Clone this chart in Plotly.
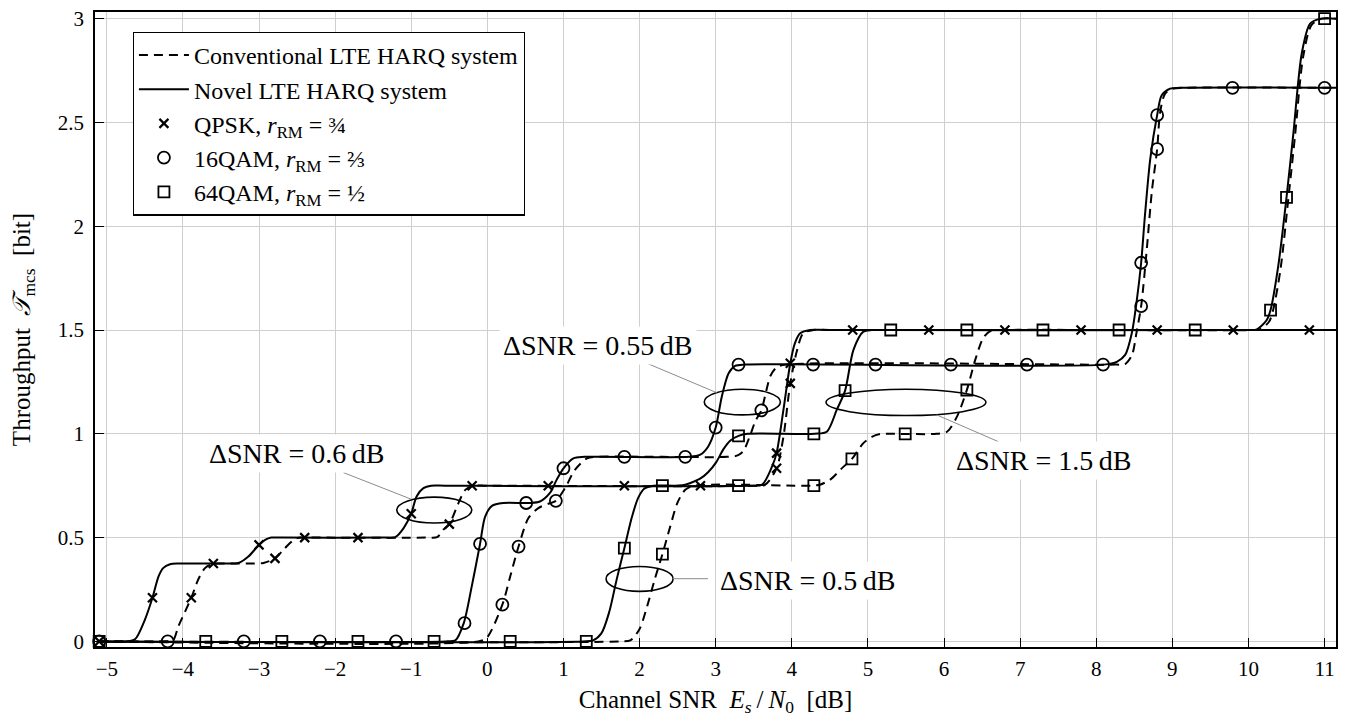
import plotly.graph_objects as go

# ---------------- data ----------------
# QPSK, r_RM = 3/4
QPSK_NOVEL_X = [-5.1, -4.75, -4.63, -4.50, -4.40, -4.32, -4.26, -4.17, -4.05, -3.45, -3.27, -3.14, -3.0, -2.92, -2.84, -2.70,
                -1.35, -1.21, -1.10, -1.0, -0.93, -0.84, -0.74, -0.55, 3.45, 3.61, 3.74, 3.80, 3.89, 3.98, 4.04, 4.11, 4.24, 4.45, 11.15]
QPSK_NOVEL_Y = [0, 0, 0.01, 0.104, 0.21, 0.313, 0.353, 0.372, 0.375, 0.375, 0.378, 0.409, 0.465, 0.489, 0.5, 0.5,
                0.5, 0.502, 0.546, 0.615, 0.698, 0.738, 0.75, 0.75, 0.75, 0.755, 0.842, 0.907, 1.115, 1.34, 1.436, 1.484, 1.5, 1.5, 1.5]
QPSK_CONV_X = [-5.1, -4.25, -4.13, -4.06, -3.89, -3.80, -3.71, -3.62, -3.50, -3.05, -2.94, -2.79, -2.66, -2.53, -2.45, -2.30,
               -0.80, -0.66, -0.58, -0.50, -0.38, -0.29, -0.18, 0.0, 3.50, 3.65, 3.80, 3.89, 3.98, 4.07, 4.15, 4.29, 4.5, 11.15]
QPSK_CONV_Y = [0, 0, 0.005, 0.072, 0.21, 0.297, 0.353, 0.372, 0.375, 0.375, 0.378, 0.40, 0.449, 0.493, 0.5, 0.5,
               0.5, 0.502, 0.538, 0.565, 0.666, 0.73, 0.75, 0.75, 0.75, 0.755, 0.834, 0.986, 1.243, 1.404, 1.484, 1.5, 1.5, 1.5]
QPSK_NOVEL_MX = [-5.1, -4.40, -3.0, -1.0, -0.2, 0.8, 1.8, 2.8, 3.80, 3.98, 4.8, 5.8, 6.8, 7.8, 8.8, 9.8, 10.8]
QPSK_NOVEL_MY = [0, 0.21, 0.465, 0.615, 0.75, 0.75, 0.75, 0.75, 0.907, 1.34, 1.5, 1.5, 1.5, 1.5, 1.5, 1.5, 1.5]
QPSK_CONV_MX = [-3.89, -3.60, -2.79, -2.40, -1.70, -0.50, 3.80, 3.98]
QPSK_CONV_MY = [0.21, 0.375, 0.40, 0.5, 0.5, 0.565, 0.834, 1.243]

# 16QAM, r_RM = 2/3
QAM16_NOVEL_X = [-5.1, -0.55, -0.42, -0.31, -0.205, -0.096, -0.03, 0.06, 0.21, 0.55, 0.69, 0.82, 0.91, 1.0, 1.13, 1.28,
                 2.65, 2.79, 2.90, 3.0, 3.08, 3.17, 3.255, 3.40, 8.10, 8.27, 8.38, 8.47, 8.53, 8.59, 8.64, 8.71, 8.80, 8.86,
                 8.97, 9.10, 11.15]
QAM16_NOVEL_Y = [0, 0, 0.005, 0.088, 0.265, 0.47, 0.60, 0.653, 0.6667, 0.6667, 0.674, 0.714, 0.778, 0.834, 0.882, 0.8889,
                 0.8889, 0.898, 0.938, 1.03, 1.179, 1.292, 1.327, 1.3333, 1.3333, 1.347, 1.38, 1.49, 1.636, 1.824, 2.053,
                 2.326, 2.535, 2.631, 2.663, 2.6667, 2.6667]
QAM16_CONV_X = [-5.1, -0.12, -0.01, 0.197, 0.30, 0.41, 0.54, 0.67, 0.80, 0.90, 1.02, 1.15, 1.31, 1.45, 3.15, 3.28, 3.36,
                3.45, 3.52, 3.60, 3.66, 3.72, 3.80, 3.92, 8.25, 8.38, 8.47, 8.53, 8.59, 8.665, 8.73, 8.80, 8.84, 8.905,
                9.01, 9.14, 11.15]
QAM16_CONV_Y = [0, 0, 0.016, 0.177, 0.313, 0.457, 0.594, 0.642, 0.663, 0.677, 0.738, 0.826, 0.882, 0.8889, 0.8889, 0.895,
                0.915, 0.99, 1.06, 1.113, 1.20, 1.28, 1.32, 1.3333, 1.3333, 1.336, 1.38, 1.49, 1.615, 1.893, 2.166, 2.371,
                2.55, 2.639, 2.663, 2.6667, 2.6667]
QAM16_NOVEL_MX = [-5.1, -4.2, -3.2, -2.2, -1.2, -0.30, -0.096, 0.51, 1.0, 1.8, 2.6, 3.0, 3.30, 4.28, 5.10, 6.09, 7.09,
                  8.09, 8.59, 8.80, 9.79, 11.0]
QAM16_NOVEL_MY = [0, 0, 0, 0, 0, 0.088, 0.47, 0.6667, 0.834, 0.8889, 0.8889, 1.03, 1.3333, 1.3333, 1.3333, 1.3333, 1.3333,
                  1.3333, 1.824, 2.535, 2.6667, 2.6667]
QAM16_CONV_MX = [0.197, 0.41, 0.90, 3.60, 8.59, 8.80]
QAM16_CONV_MY = [0.177, 0.457, 0.677, 1.113, 1.615, 2.371]

# 64QAM, r_RM = 1/2
QAM64_NOVEL_X = [-5.1, 1.25, 1.39, 1.50, 1.60, 1.70, 1.80, 1.90, 1.98, 2.06, 2.18, 2.45, 2.58, 2.70, 2.80, 2.90, 3.01,
                 3.10, 3.19, 3.30, 3.42, 4.30, 4.46, 4.59, 4.70, 4.81, 4.94, 5.05, 5.2, 10.0, 10.11, 10.24, 10.29, 10.39,
                 10.50, 10.59, 10.70, 10.81, 10.95, 11.15]
QAM64_NOVEL_Y = [0, 0, 0.005, 0.04, 0.14, 0.30, 0.449, 0.60, 0.69, 0.735, 0.75, 0.75, 0.753, 0.768, 0.785, 0.815, 0.865,
                 0.925, 0.967, 0.99, 1.0, 1.0, 1.01, 1.115, 1.208, 1.404, 1.492, 1.5, 1.5, 1.5, 1.503, 1.548, 1.596, 1.805,
                 2.139, 2.447, 2.832, 2.976, 3.0, 3.0]
QAM64_CONV_X = [-5.1, 1.75, 1.88, 2.00, 2.10, 2.20, 2.30, 2.40, 2.50, 2.60, 2.72, 4.25, 4.37, 4.50, 4.68, 4.79, 4.94,
                5.05, 5.16, 5.3, 5.9, 6.04, 6.17, 6.30, 6.41, 6.52, 6.62, 6.75, 10.05, 10.15, 10.27, 10.32, 10.42, 10.52,
                10.61, 10.72, 10.83, 10.97, 11.15]
QAM64_CONV_Y = [0, 0, 0.005, 0.06, 0.17, 0.30, 0.42, 0.55, 0.67, 0.73, 0.75, 0.75, 0.755, 0.778, 0.842, 0.879, 0.955,
                0.985, 0.999, 1.0, 1.0, 1.01, 1.083, 1.211, 1.356, 1.465, 1.497, 1.5, 1.5, 1.503, 1.54, 1.59, 1.79, 2.12,
                2.43, 2.82, 2.97, 3.0, 3.0]
QAM64_NOVEL_MX = [-5.1, -3.7, -2.7, -1.7, -0.7, 0.3, 1.3, 1.80, 2.30, 3.30, 4.29, 4.70, 5.30, 6.30, 7.30, 8.30, 9.30,
                  10.29, 10.50, 11.0]
QAM64_NOVEL_MY = [0, 0, 0, 0, 0, 0, 0, 0.449, 0.75, 0.99, 1.0, 1.208, 1.5, 1.5, 1.5, 1.5, 1.5, 1.596, 2.139, 3.0]
QAM64_CONV_MX = [2.30, 3.30, 4.29, 4.79, 5.49, 6.30]
QAM64_CONV_MY = [0.42, 0.75, 0.75, 0.879, 1.0, 1.211]

X_TICKS = list(range(-5, 12))
Y_TICKS = [0, 0.5, 1, 1.5, 2, 2.5, 3]

LEGEND_LABELS = ["Conventional LTE HARQ system", "Novel LTE HARQ system",
                 "QPSK, <i>r</i><sub>RM</sub> = ¾", "16QAM, <i>r</i><sub>RM</sub> = ⅔",
                 "64QAM, <i>r</i><sub>RM</sub> = ½"]

DELTA_LABELS = ["ΔSNR = 0.6\u2009dB", "ΔSNR = 0.55\u2009dB", "ΔSNR = 1.5\u2009dB", "ΔSNR = 0.5\u2009dB"]

X_TITLE = "Channel SNR\u00a0 <i>E<sub>s</sub></i>\u2009/\u2009<i>N</i><sub>0</sub>\u00a0 [dB]"
Y_TITLE = "Throughput\u00a0 <i>𝒯</i><sub>mcs</sub>\u00a0 [bit]"

# ---------------- figure ----------------
FONT = "Liberation Serif"
DASH = "9px,6px"
LW = 2.0

fig = go.Figure()

curves = [
    (QPSK_CONV_X, QPSK_CONV_Y, DASH), (QPSK_NOVEL_X, QPSK_NOVEL_Y, "solid"),
    (QAM16_CONV_X, QAM16_CONV_Y, DASH), (QAM16_NOVEL_X, QAM16_NOVEL_Y, "solid"),
    (QAM64_CONV_X, QAM64_CONV_Y, DASH), (QAM64_NOVEL_X, QAM64_NOVEL_Y, "solid"),
]
for xs, ys, dash in curves:
    fig.add_trace(go.Scatter(x=xs, y=ys, mode="lines", showlegend=False, hoverinfo="skip",
                             line=dict(color="black", width=LW, dash=dash, shape="spline", smoothing=0.8)))

SYM = {"qpsk": dict(symbol="x-thin", size=9, line=dict(color="black", width=2.2)),
       "16": dict(symbol="circle-open", size=12, line=dict(color="black", width=1.8)),
       "64": dict(symbol="square-open", size=11, line=dict(color="black", width=1.8))}

markers = [
    (QPSK_NOVEL_MX, QPSK_NOVEL_MY, "qpsk"), (QPSK_CONV_MX, QPSK_CONV_MY, "qpsk"),
    (QAM16_NOVEL_MX, QAM16_NOVEL_MY, "16"), (QAM16_CONV_MX, QAM16_CONV_MY, "16"),
    (QAM64_NOVEL_MX, QAM64_NOVEL_MY, "64"), (QAM64_CONV_MX, QAM64_CONV_MY, "64"),
]
for xs, ys, key in markers:
    fig.add_trace(go.Scatter(x=xs, y=ys, mode="markers", showlegend=False, hoverinfo="skip",
                             marker=dict(color="black", **SYM[key]), cliponaxis=False))

# legend-only traces
fig.add_trace(go.Scatter(x=[None], y=[None], mode="lines", name=LEGEND_LABELS[0],
                         line=dict(color="black", width=LW, dash=DASH)))
fig.add_trace(go.Scatter(x=[None], y=[None], mode="lines", name=LEGEND_LABELS[1],
                         line=dict(color="black", width=LW)))
for lab, key in zip(LEGEND_LABELS[2:], ["qpsk", "16", "64"]):
    fig.add_trace(go.Scatter(x=[None], y=[None], mode="markers", name=lab,
                             marker=dict(color="black", **SYM[key])))

# ellipses, leader lines and labels
ELLIPSES = [(-1.19, -0.205, 0.570, 0.695), (2.85, 3.85, 1.091, 1.215),
            (4.45, 6.55, 1.088, 1.215), (1.56, 2.44, 0.241, 0.361)]
LEADERS = [(-1.89, 0.813, -1.0, 0.685), (2.095, 1.34, 3.014, 1.198),
           (5.905, 1.091, 6.715, 0.962), (2.436, 0.302, 2.90, 0.302)]
LABEL_POS = [(-2.505, 0.903), (1.455, 1.427), (7.31, 0.870), (4.21, 0.293)]

for (x0, x1, y0, y1) in ELLIPSES:
    fig.add_shape(type="circle", xref="x", yref="y", x0=x0, x1=x1, y0=y0, y1=y1,
                  line=dict(color="black", width=1.6))
for (x0, y0, x1, y1) in LEADERS:
    fig.add_shape(type="line", xref="x", yref="y", x0=x0, y0=y0, x1=x1, y1=y1,
                  line=dict(color="#8c8c8c", width=1))
for (lx, ly), txt in zip(LABEL_POS, DELTA_LABELS):
    fig.add_annotation(x=lx, y=ly, xref="x", yref="y", text=txt, showarrow=False,
                       font=dict(family=FONT, size=28, color="black"),
                       bgcolor="white", borderpad=3, xanchor="center", yanchor="middle")

fig.update_layout(
    width=1350, height=721,
    margin=dict(l=95, r=14, t=12, b=74, autoexpand=False),
    paper_bgcolor="white", plot_bgcolor="white",
    font=dict(family=FONT, size=20, color="black"),
    legend=dict(x=0.0304, y=0.969, xanchor="left", yanchor="top",
                bgcolor="white", bordercolor="black", borderwidth=1.2,
                font=dict(family=FONT, size=24, color="black"),
                itemwidth=50, tracegroupgap=0),
    xaxis=dict(range=[-5.155, 11.15], tickmode="array", tickvals=X_TICKS, automargin=False,
               showgrid=True, gridcolor="#cfcfcf", gridwidth=1, zeroline=False,
               showline=True, linecolor="black", linewidth=1.6, mirror=True,
               ticks="inside", ticklen=9, tickwidth=1.2, tickcolor="black",
               ticklabelstandoff=2,
               tickfont=dict(family=FONT, size=21, color="black"),
               title=dict(text=X_TITLE, font=dict(family=FONT, size=25, color="black"), standoff=10)),
    yaxis=dict(range=[-0.027, 3.032], tickmode="array", tickvals=Y_TICKS, automargin=False,
               showgrid=True, gridcolor="#cfcfcf", gridwidth=1, zeroline=False,
               showline=True, linecolor="black", linewidth=1.6, mirror=True,
               ticks="inside", ticklen=9, tickwidth=1.2, tickcolor="black",
               ticklabelstandoff=5,
               tickfont=dict(family=FONT, size=21, color="black"),
               title=dict(text=Y_TITLE, font=dict(family=FONT, size=25, color="black"), standoff=20)),
)

fig.write_html("out.html", config={"displayModeBar": False},
               post_script="document.body.style.margin='0';document.body.style.overflow='hidden';")
